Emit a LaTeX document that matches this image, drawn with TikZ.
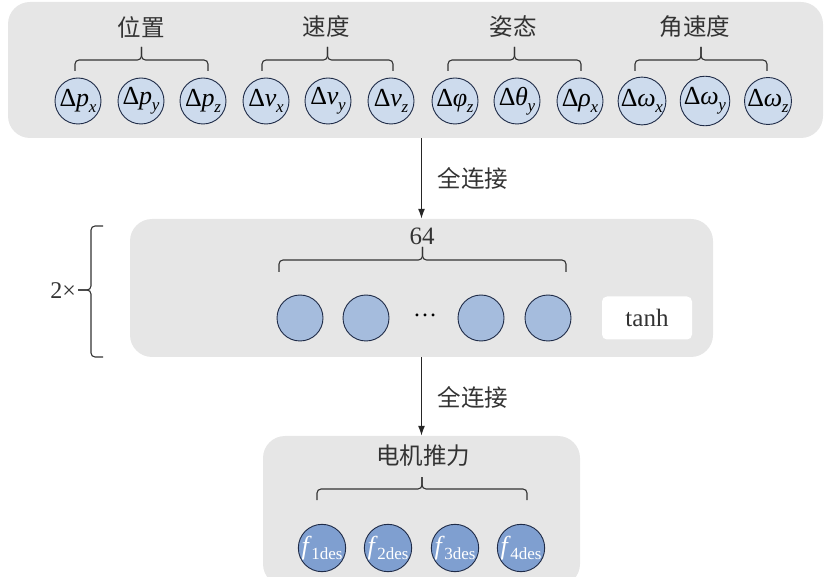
\documentclass[tikz,border=0pt]{standalone}
\usepackage{fontspec}
\setmainfont{Liberation Serif}
\newfontfamily\cjk{Noto Sans CJK SC}
\usetikzlibrary{arrows.meta}
\definecolor{panelgray}{HTML}{E6E6E6}
\definecolor{edgeblue}{HTML}{1F2B47}
\definecolor{inlight}{HTML}{CDDBED}
\definecolor{midblue}{HTML}{A5BCDD}
\definecolor{outblue}{HTML}{7F9FD0}
\definecolor{labelgray}{HTML}{333333}
\newcommand{\mysub}[1]{\raisebox{-0.22em}{\fontsize{17}{17}\selectfont #1}}
\newcommand{\dd}[2]{Δ\kern-0.3pt\textit{#1}\kern-0.3pt\mysub{\textit{#2}}}
\newcommand{\fdes}[1]{\textit{f}\kern-0.5pt\mysub{#1des}}
\newcommand{\mybrace}[5]{%
  \draw[bracestyle] (#1,#3) -- (#1,#4) -- ({(#1+#2)/2},#4) -- ({(#1+#2)/2},#5);
  \draw[bracestyle] (#2,#3) -- (#2,#4) -- ({(#1+#2)/2},#4) -- ({(#1+#2)/2},#5);}
\tikzset{
  panel/.style={fill=panelgray, draw=none, rounded corners=22pt, inner sep=0},
  incircle/.style={circle, draw=edgeblue, line width=0.9pt, fill=inlight, minimum size=46pt, inner sep=0pt, font=\fontsize{26}{26}\selectfont, text=black},
  hidcircle/.style={incircle, fill=midblue},
  outcircle/.style={incircle, fill=outblue, text=white},
  grouplabel/.style={font=\cjk\fontsize{23.5}{23.5}\selectfont, text=labelgray, inner sep=0},
  bracestyle/.style={draw=black!80, line width=1.1pt, rounded corners=4pt},
  arr/.style={-{Latex[length=10pt,width=7pt]}, line width=1.4pt, draw=black!85},
  arrlabel/.style={font=\cjk\fontsize{23.5}{23.5}\selectfont, text=labelgray, anchor=west}
}
\begin{document}
\begin{tikzpicture}[x=1pt,y=-1pt]
\useasboundingbox (0,0) rectangle (828,577);
% panels
\node[panel, minimum width=815pt, minimum height=136pt] (P1) at (415.5,70) {};
\node[panel, minimum width=583pt, minimum height=138pt] (P2) at (421.5,288) {};
\node[panel, minimum width=317pt, minimum height=150pt] (P3) at (421.5,511) {};
% top circles
\node[incircle] (a1) at (78,101) {\dd{p}{x}};
\node[incircle] (a2) at (141,101) {\dd{p}{y}};
\node[incircle] (a3) at (203,101) {\dd{p}{z}};
\node[incircle] (a4) at (266,101) {\dd{v}{x}};
\node[incircle] (a5) at (328,101) {\dd{v}{y}};
\node[incircle] (a6) at (391,101) {\dd{v}{z}};
\node[incircle] (a7) at (455,101) {\dd{φ}{z}};
\node[incircle] (a8) at (517,101) {\dd{θ}{y}};
\node[incircle] (a9) at (580,101) {\dd{ρ}{x}};
\node[incircle] (a10) at (642,101) {\dd{ω}{x}};
\node[incircle] (a11) at (705,101) {\dd{ω}{y}};
\node[incircle] (a12) at (768,101) {\dd{ω}{z}};
% top braces and labels
\mybrace{75}{208}{71}{60}{47}
\mybrace{262}{393}{71}{60}{47}
\mybrace{448}{581}{71}{60}{47}
\mybrace{635}{767}{71}{60}{47}
\node[grouplabel] (g1) at (141,27) {位置};
\node[grouplabel] (g2) at (326,27) {速度};
\node[grouplabel] (g3) at (513,27) {姿态};
\node[grouplabel] (g4) at (695,27) {角速度};
% arrow 1
\draw[arr] (P2.north |- P1.south) -- (P2.north);
\node[arrlabel] (l1) at (434,178) {全连接};
% hidden layer
\node[font=\fontsize{25}{25}\selectfont, text=labelgray] (n64) at (422,236) {64};
\mybrace{279}{566}{272}{260}{247}
\node[hidcircle] (h1) at (300,318) {};
\node[hidcircle] (h2) at (366,318) {};
\node[font=\fontsize{24}{24}\selectfont] (hd) at (425,315) {…};
\node[hidcircle] (h3) at (481,318) {};
\node[hidcircle] (h4) at (548,318) {};
\node[fill=white, rounded corners=5pt, minimum width=90pt, minimum height=43pt, inner sep=0, font=\fontsize{25}{25}\selectfont, text=labelgray] (tanh) at (647,318) {tanh};
% 2x brace
\draw[bracestyle] (103,226) -- (91,226) -- (91,290) -- (78,290);
\draw[bracestyle] (103,357) -- (91,357) -- (91,290) -- (78,290);
\node[font=\fontsize{24}{24}\selectfont, text=labelgray, anchor=east, inner sep=1pt] (rep) at (77,291) {2×};
% arrow 2
\draw[arr] (P2.south) -- (P3.north);
\node[arrlabel] (l2) at (434,397) {全连接};
% output layer
\node[grouplabel] (g5) at (423,456) {电机推力};
\mybrace{317}{527}{500}{489}{477}
\node[outcircle] (o1) at (322,548) {\fdes{1}};
\node[outcircle] (o2) at (388,548) {\fdes{2}};
\node[outcircle] (o3) at (455,548) {\fdes{3}};
\node[outcircle] (o4) at (521,548) {\fdes{4}};
\end{tikzpicture}
\end{document}
